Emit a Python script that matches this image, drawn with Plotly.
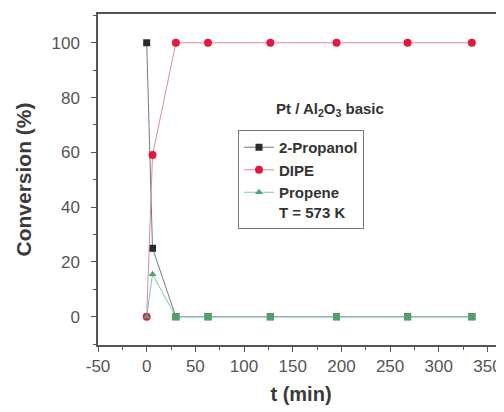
import plotly.graph_objects as go

t_min = [0, 6, 30, 63, 127, 195, 268, 334]
propanol = [100, 25, 0, 0, 0, 0, 0, 0]
dipe = [0, 59, 100, 100, 100, 100, 100, 100]
propene = [0, 15.5, 0, 0, 0, 0, 0, 0]

x_ticks = list(range(-50, 351, 50))
x_ticktext = [str(v) for v in x_ticks]
y_ticks = list(range(0, 101, 20))

FONT = "Liberation Sans, Arial"
OFF = 8  # page body margin offset

fig = go.Figure()
fig.add_trace(go.Scatter(x=t_min, y=propanol, name="2-Propanol", mode="lines+markers",
                         line=dict(color="#7a7a7a", width=1),
                         marker=dict(symbol="square", size=7, color="#2b2b2b")))
fig.add_trace(go.Scatter(x=t_min, y=dipe, name="DIPE", mode="lines+markers",
                         line=dict(color="#d98aa0", width=1),
                         marker=dict(symbol="circle", size=8, color="#e4173f")))
fig.add_trace(go.Scatter(x=t_min, y=propene, name="Propene<br>T = 573 K", mode="lines+markers",
                         line=dict(color="#7cc4c0", width=1),
                         marker=dict(symbol=["triangle-up", "triangle-up"] + ["square"] * 6,
                                     size=7, color="#4fa36a")))

axis_common = dict(showline=True, linecolor="#555555", linewidth=1.5, ticks="outside",
                   ticklen=5, tickwidth=1, tickcolor="#555555", showgrid=False, zeroline=False,
                   automargin=False,
                   tickfont=dict(family=FONT, size=17, color="#555555"))

fig.update_xaxes(range=[-50, 367], tickmode="array", tickvals=x_ticks, ticktext=x_ticktext,
                 minor=dict(ticks="outside", ticklen=3, tickcolor="#555555", dtick=25, tick0=-50),
                 title=dict(text="<b>t (min)</b>", font=dict(family=FONT, size=20, color="#3a3a3a"), standoff=12),
                 mirror=True, **axis_common)
fig.update_yaxes(range=[-10.3, 110.5], tickmode="array", tickvals=y_ticks,
                 minor=dict(ticks="outside", ticklen=3, tickcolor="#555555", dtick=10, tick0=0),
                 ticklabelstandoff=8,
                 title=dict(text="<b>Conversion (%)</b>", font=dict(family=FONT, size=21, color="#3a3a3a"), standoff=14),
                 **axis_common)

fig.add_annotation(text="<b>Pt / Al<sub>2</sub>O<sub>3</sub> basic</b>", xref="paper", yref="paper",
                   x=(274 - 98) / 406, y=(345 - 109) / 331, xanchor="left", yanchor="middle",
                   showarrow=False, font=dict(family=FONT, size=15, color="#333333"))

fig.update_layout(
    width=504 - OFF, height=412 - OFF, margin=dict(l=98 - OFF, r=0, t=14 - OFF, b=67),
    plot_bgcolor="white", paper_bgcolor="white",
    legend=dict(x=(238 - 98) / 406, y=(345 - 130) / 331, xanchor="left", yanchor="top",
                bordercolor="#777777", borderwidth=1, bgcolor="white", valign="top",
                font=dict(family=FONT, size=15, color="#333333", weight="bold"),
                tracegroupgap=0, itemwidth=30),
)

fig.write_html("out.html")
